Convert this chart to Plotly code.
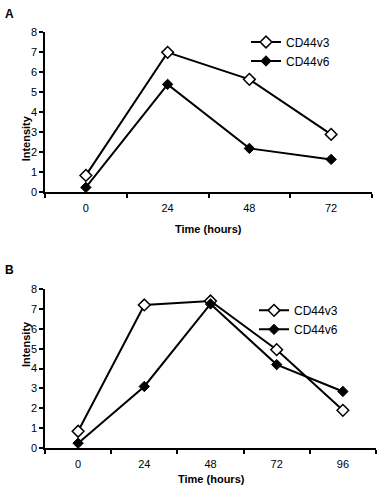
import plotly.graph_objects as go

# Panel A data
times_a = ["0", "24", "48", "72"]
cd44v3_a = [0.85, 7.0, 5.65, 2.9]
cd44v6_a = [0.25, 5.4, 2.2, 1.65]

# Panel B data
times_b = ["0", "24", "48", "72", "96"]
cd44v3_b = [0.85, 7.2, 7.4, 4.95, 1.9]
cd44v6_b = [0.25, 3.1, 7.25, 4.2, 2.85]

y_ticks = [0, 1, 2, 3, 4, 5, 6, 7, 8]

FONT = "Liberation Sans, Arial, sans-serif"
W, H = 377, 500

fig = go.Figure()

open_marker = dict(symbol="diamond", size=9, color="white", line=dict(color="black", width=1.5))
fill_marker = dict(symbol="diamond", size=8, color="black", line=dict(color="black", width=1))
line_style = dict(color="black", width=2)

fig.add_trace(go.Scatter(x=times_a, y=cd44v3_a, name="CD44v3", mode="lines+markers",
                         line=line_style, marker=open_marker, xaxis="x", yaxis="y", legend="legend"))
fig.add_trace(go.Scatter(x=times_a, y=cd44v6_a, name="CD44v6", mode="lines+markers",
                         line=line_style, marker=fill_marker, xaxis="x", yaxis="y", legend="legend"))
fig.add_trace(go.Scatter(x=times_b, y=cd44v3_b, name="CD44v3", mode="lines+markers",
                         line=line_style, marker=open_marker, xaxis="x2", yaxis="y2", legend="legend2"))
fig.add_trace(go.Scatter(x=times_b, y=cd44v6_b, name="CD44v6", mode="lines+markers",
                         line=line_style, marker=fill_marker, xaxis="x2", yaxis="y2", legend="legend2"))

def xax(domain, n):
    return dict(domain=domain, type="category", range=[-0.5, n - 0.5], tickson="boundaries",
                ticks="outside", ticklen=4, tickwidth=1.5, tickcolor="black",
                showline=True, linecolor="black", linewidth=1.5, showgrid=False, zeroline=False,
                tickfont=dict(family=FONT, size=11, color="black"), ticklabelstandoff=5,
                fixedrange=True)

def yax(domain, anchor):
    return dict(domain=domain, anchor=anchor, range=[0, 8], tickmode="array", tickvals=y_ticks,
                ticktext=[str(v) for v in y_ticks],
                ticks="outside", ticklen=4, tickwidth=1.5, tickcolor="black",
                showline=True, linecolor="black", linewidth=1.5, showgrid=False, zeroline=False,
                tickfont=dict(family=FONT, size=11, color="black"), fixedrange=True)

fig.update_layout(
    width=W, height=H,
    margin=dict(l=0, r=0, t=0, b=0),
    paper_bgcolor="white", plot_bgcolor="white",
    font=dict(family=FONT, size=11, color="black"),
    xaxis=dict(xax([45 / W, 372 / W], 4), anchor="y"),
    yaxis=yax([1 - 191 / H, 1 - 27 / H], "x"),
    xaxis2=dict(xax([45 / W, 376 / W], 5), anchor="y2"),
    yaxis2=yax([1 - 453 / H, 1 - 290 / H], "x2"),
    legend=dict(x=246 / W, y=1 - 22 / H, xanchor="left", yanchor="top",
                bgcolor="rgba(0,0,0,0)", font=dict(family=FONT, size=12, color="black"),
                itemclick=False, itemdoubleclick=False),
    legend2=dict(x=254 / W, y=1 - 297 / H, xanchor="left", yanchor="top",
                 bgcolor="rgba(0,0,0,0)", font=dict(family=FONT, size=12, color="black"),
                 itemclick=False, itemdoubleclick=False),
    showlegend=True,
    annotations=[
        dict(text="<b>A</b>", x=3 / W, y=1 - 8 / H, xref="paper", yref="paper",
             xanchor="left", yanchor="middle", showarrow=False, font=dict(size=12)),
        dict(text="<b>B</b>", x=3 / W, y=1 - 270 / H, xref="paper", yref="paper",
             xanchor="left", yanchor="middle", showarrow=False, font=dict(size=12)),
        dict(text="<b>Intensity</b>", x=18 / W, y=1 - 110 / H, xref="paper", yref="paper",
             textangle=-90, showarrow=False, font=dict(size=11)),
        dict(text="<b>Intensity</b>", x=18 / W, y=1 - 372 / H, xref="paper", yref="paper",
             textangle=-90, showarrow=False, font=dict(size=11)),
        dict(text="<b>Time (hours)</b>", x=208 / W, y=1 - 228 / H, xref="paper", yref="paper",
             showarrow=False, font=dict(size=11)),
        dict(text="<b>Time (hours)</b>", x=211 / W, y=1 - 493 / H, xref="paper", yref="paper",
             showarrow=False, font=dict(size=11)),
    ],
)

fig.write_html("out.html", config={"displayModeBar": False},
               post_script="document.body.style.margin='0';")
